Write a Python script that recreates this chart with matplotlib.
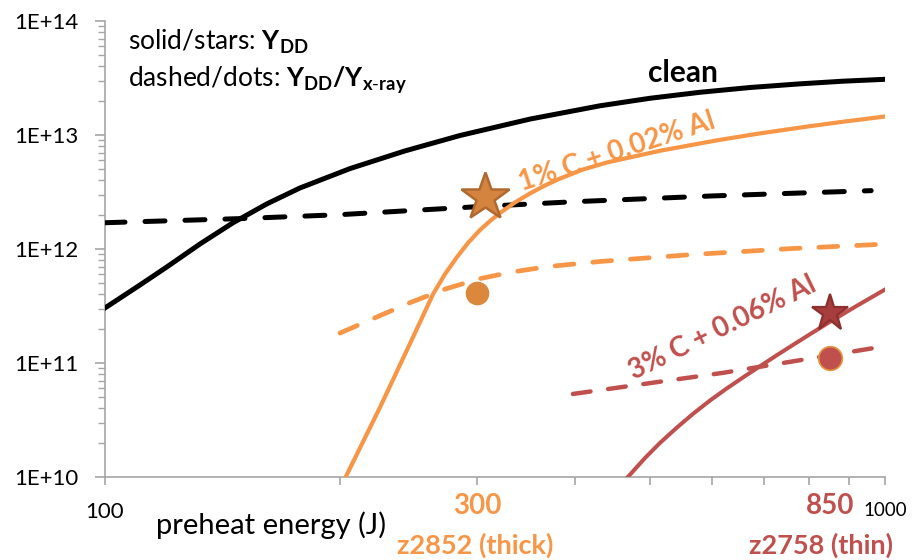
import matplotlib
matplotlib.use("Agg")
import matplotlib.pyplot as plt
from matplotlib.ticker import FixedLocator, NullFormatter, FixedFormatter

plt.rcParams['font.family'] = ['Lato', 'DejaVu Sans']
plt.rcParams['mathtext.fontset'] = 'custom'
plt.rcParams['mathtext.rm'] = 'Lato'
plt.rcParams['mathtext.it'] = 'Lato:italic'
plt.rcParams['mathtext.bf'] = 'Lato:bold'

# ---- data: preheat energy (J) vs yield ----
clean_x = [100, 110.9, 120.1, 132.4, 145.9, 161.3, 177.8, 206.2, 242.4, 285.2,
           350.6, 431.1, 499.5, 579.2, 671.3, 778.0, 883.5, 1000]
clean_y = [3.04e11, 4.84e11, 6.98e11, 1.108e12, 1.698e12, 2.49e12, 3.43e12,
           5.08e12, 7.25e12, 9.90e12, 1.379e13, 1.804e13, 2.099e13, 2.37e13,
           2.61e13, 2.81e13, 2.965e13, 3.08e13]

clean_ratio_x = [100, 150, 200, 300, 400, 600, 960]
clean_ratio_y = [1.70e12, 1.85e12, 2.0e12, 2.35e12, 2.6e12, 2.92e12, 3.25e12]

thick_x = [203.5, 225.3, 248.3, 263.4, 272.9, 282.7, 292.0, 302.6, 311.6, 320.9,
           335.4, 350.6, 366.5, 383.1, 410.0, 440.1, 514.6, 609.0, 691.4, 794.3,
           888.7, 1000]
thick_y = [1.0e10, 4.11e10, 1.69e11, 4.03e11, 6.04e11, 8.51e11, 1.13e12, 1.47e12,
           1.76e12, 2.07e12, 2.56e12, 3.07e12, 3.61e12, 4.15e12, 4.98e12, 5.74e12,
           7.27e12, 8.98e12, 1.033e13, 1.185e13, 1.314e13, 1.453e13]

thick_ratio_x = [200.1, 223.9, 246.0, 272.9, 301.6, 332.5, 369.8, 431.1, 567.3,
                 762.2, 976]
thick_ratio_y = [1.83e11, 2.56e11, 3.38e11, 4.45e11, 5.47e11, 6.28e11, 7.01e11,
                 7.77e11, 8.95e11, 1.01e12, 1.095e12]

thin_x = [468.1, 492.4, 514.6, 541.2, 567.3, 596.6, 627.2, 661.6, 691.4, 727.0,
          762.2, 801.4, 842.5, 915.1, 1000]
thin_y = [1.0e10, 1.468e10, 1.99e10, 2.72e10, 3.58e10, 4.69e10, 6.00e10, 7.68e10,
          9.37e10, 1.173e11, 1.441e11, 1.789e11, 2.212e11, 3.105e11, 4.41e11]

thin_ratio_x = [398, 620, 966]
thin_ratio_y = [5.35e10, 8.2e10, 1.35e11]

# measured shots: star = Y_DD, dot = Y_DD / Y_x-ray
star_thick = (307, 2.86e12)
dot_thick = (300, 4.11e11)
star_thin = (850, 2.75e11)
dot_thin = (850, 1.11e11)

shot_energies = [300, 850]
shot_labels = ["300", "850"]
shot_names = ["z2852 (thick)", "z2758 (thin)"]

y_ticks = [1e10, 1e11, 1e12, 1e13, 1e14]
y_tick_labels = ["1E+10", "1E+11", "1E+12", "1E+13", "1E+14"]

ORANGE = '#F79646'
RED = '#C0504D'

fig = plt.figure(figsize=(9.14, 5.60), dpi=100)
ax = fig.add_axes([105 / 914, 1 - 477 / 560, 780 / 914, 456 / 560])
ax.set_xscale('log')
ax.set_yscale('log')
ax.set_xlim(100, 1000)
ax.set_ylim(1e10, 1e14)

dash = (4, 4)
ax.plot(clean_x, clean_y, color='black', lw=3.6, solid_joinstyle='round', zorder=3)
ax.plot(clean_ratio_x, clean_ratio_y, color='black', lw=3.6, dashes=dash,
        dash_capstyle='round', zorder=3)
ax.plot(thick_x, thick_y, color=ORANGE, lw=3.0, solid_joinstyle='round', zorder=3)
ax.plot(thick_ratio_x, thick_ratio_y, color=ORANGE, lw=3.4, dashes=dash,
        dash_capstyle='round', zorder=3)
ax.plot(thin_x, thin_y, color=RED, lw=2.9, solid_joinstyle='round', zorder=3)
ax.plot(thin_ratio_x, thin_ratio_y, color=RED, lw=3.2, dashes=dash,
        dash_capstyle='round', zorder=3)

ax.plot(*star_thick, marker='*', ms=36, mfc='#D4843F', mec='#B0692E', mew=1.8,
        zorder=5, clip_on=False)
ax.plot(*dot_thick, marker='o', ms=16, mfc='#DB883C', mec='#DB883C', zorder=5)
ax.plot(*star_thin, marker='*', ms=28, mfc='#A73D3D', mec='#8E2F2F', mew=1.6,
        zorder=5)
ax.plot(*dot_thin, marker='o', ms=17, mfc=RED, mec='#E8923C', mew=1.2, zorder=5)

# axes styling
for side in ('top', 'right'):
    ax.spines[side].set_visible(False)
for side in ('left', 'bottom'):
    ax.spines[side].set_color('#A6A6A6')
    ax.spines[side].set_linewidth(1.2)

ax.yaxis.set_major_locator(FixedLocator(y_ticks))
ax.yaxis.set_major_formatter(FixedFormatter(y_tick_labels))
ax.yaxis.set_minor_locator(FixedLocator(
    [m * 10.0 ** e for e in range(10, 14) for m in range(2, 10)]))
ax.yaxis.set_minor_formatter(NullFormatter())
ax.tick_params(axis='y', which='major', length=7, width=1.2, color='#A6A6A6',
               labelsize=16, pad=12)
ax.tick_params(axis='y', which='minor', length=5, width=1.0, color='#A6A6A6')

ax.xaxis.set_major_locator(FixedLocator([100, 1000]))
ax.xaxis.set_major_formatter(FixedFormatter(["100", "1000"]))
ax.xaxis.set_minor_locator(FixedLocator([200, 300, 400, 500, 600, 700, 800, 900]))
ax.xaxis.set_minor_formatter(NullFormatter())
ax.tick_params(axis='x', which='both', length=6, width=1.2, color='#A6A6A6',
               labelsize=16, pad=12)
xl = ax.get_xticklabels()
xl[1].set_fontsize(13.5)

# shot annotations below the axis
xt = ax.get_xaxis_transform()
for e, lab, c in zip(shot_energies, shot_labels, [ORANGE, RED]):
    ax.text(e, -0.064, lab, transform=xt, color=c, fontsize=20, fontweight='bold',
            ha='center', va='center')
ax.text(0.475, -0.150, shot_names[0], transform=ax.transAxes, color=ORANGE,
        fontsize=19.5, fontweight='bold', ha='center', va='center')
ax.text(0.918, -0.150, shot_names[1], transform=ax.transAxes, color=RED,
        fontsize=19.5, fontweight='bold', ha='center', va='center')
ax.text(0.213, -0.105, "preheat energy (J)", transform=ax.transAxes,
        fontsize=21, ha='center', va='center')

# key text
ax.text(0.0295, 0.936, r"solid/stars: $\mathbf{Y_{DD}}$", transform=ax.transAxes,
        fontsize=19, ha='left', va='baseline')
ax.text(0.0295, 0.855, r"dashed/dots: $\mathbf{Y_{DD}/Y_{x\text{-}ray}}$",
        transform=ax.transAxes, fontsize=19, ha='left', va='baseline')

# curve labels
ax.text(0.741, 0.886, "clean", transform=ax.transAxes, fontsize=21.5,
        fontweight='bold', ha='center', va='center')
ax.text(0.656, 0.713, "1% C + 0.02% Al", transform=ax.transAxes, fontsize=20,
        fontweight='bold', color=ORANGE, ha='center', va='center', rotation=18,
        rotation_mode='anchor')
ax.text(0.792, 0.327, "3% C + 0.06% Al", transform=ax.transAxes, fontsize=20,
        fontweight='bold', color=RED, ha='center', va='center', rotation=26,
        rotation_mode='anchor')

fig.savefig("out.png", dpi=100)
